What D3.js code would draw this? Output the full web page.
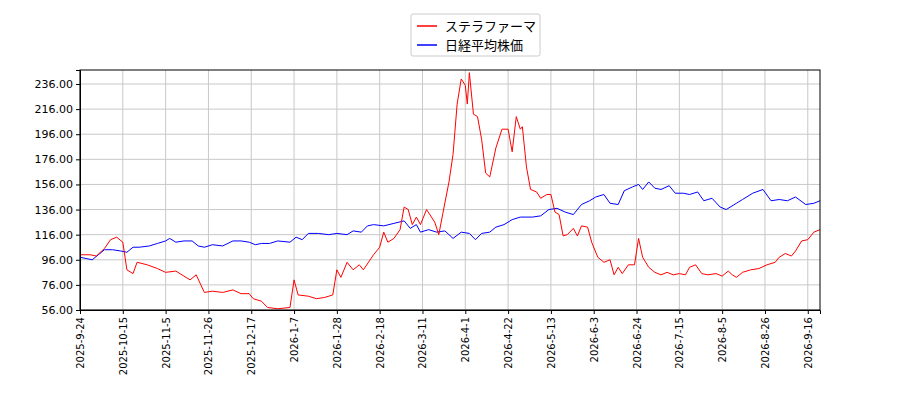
<!DOCTYPE html>
<html><head><meta charset="utf-8">
<script src="https://cdn.jsdelivr.net/npm/d3@7"></script>
<style>body{margin:0;background:#fff}svg{font-family:"DejaVu Sans",sans-serif}</style>
</head><body><svg id="c" width="900" height="400"></svg>
<script>
'use strict';
const seriesNames = ['ステラファーマ', '日経平均株価'];
const seriesColors = ['#ff0000', '#0000ff'];
const stellaDates = ['2025-9-24','2025-9-29','2025-10-2','2025-10-6','2025-10-9','2025-10-12','2025-10-15','2025-10-17','2025-10-20','2025-10-22','2025-10-27','2025-11-1','2025-11-5','2025-11-10','2025-11-14','2025-11-17','2025-11-20','2025-11-24','2025-11-28','2025-12-3','2025-12-8','2025-12-12','2025-12-16','2025-12-18','2025-12-22','2025-12-25','2025-12-30','2026-1-5','2026-1-7','2026-1-9','2026-1-14','2026-1-18','2026-1-22','2026-1-26','2026-1-28','2026-1-30','2026-2-2','2026-2-5','2026-2-8','2026-2-10','2026-2-15','2026-2-18','2026-2-20','2026-2-22','2026-2-25','2026-2-28','2026-3-2','2026-3-4','2026-3-6','2026-3-8','2026-3-10','2026-3-13','2026-3-17','2026-3-19','2026-3-21','2026-3-24','2026-3-26','2026-3-28','2026-3-30','2026-4-1','2026-4-2','2026-4-3','2026-4-5','2026-4-7','2026-4-9','2026-4-11','2026-4-13','2026-4-16','2026-4-19','2026-4-22','2026-4-24','2026-4-26','2026-4-28','2026-4-29','2026-5-1','2026-5-3','2026-5-6','2026-5-8','2026-5-11','2026-5-13','2026-5-15','2026-5-17','2026-5-19','2026-5-21','2026-5-24','2026-5-26','2026-5-28','2026-5-31','2026-6-2','2026-6-5','2026-6-8','2026-6-11','2026-6-13','2026-6-15','2026-6-17','2026-6-20','2026-6-23','2026-6-25','2026-6-27','2026-6-30','2026-7-3','2026-7-6','2026-7-9','2026-7-12','2026-7-15','2026-7-18','2026-7-20','2026-7-23','2026-7-26','2026-7-29','2026-8-2','2026-8-5','2026-8-8','2026-8-10','2026-8-12','2026-8-15','2026-8-19','2026-8-23','2026-8-27','2026-8-31','2026-9-2','2026-9-5','2026-9-8','2026-9-10','2026-9-13','2026-9-16','2026-9-19','2026-9-22'];
const stellaValues = [100,100,99,105,112,114,110,88,85,94,92,89,86,87,83,80,84,70,71,70,72,69,69,65,63,58,57,58,80,68,67,65,66,68,88,82,94,88,92,88,100,106,118,110,113,120,138,136,124,130,124,136,126,116,133,158,180,220,240,235,220,245,212,210,192,165,162,185,200,200,182,210,200,202,170,152,150,145,148,148,134,132,115,116,121,115,123,122,110,98,94,96,84,90,85,92,92,113,98,90,86,84,86,84,85,84,90,92,85,84,85,83,87,84,82,86,88,89,92,94,98,101,99,103,111,112,118,120];
const nikkeiDates = ['2025-9-24','2025-9-30','2025-10-3','2025-10-6','2025-10-10','2025-10-14','2025-10-17','2025-10-20','2025-10-23','2025-10-28','2025-11-1','2025-11-5','2025-11-7','2025-11-10','2025-11-14','2025-11-18','2025-11-21','2025-11-24','2025-11-28','2025-12-3','2025-12-8','2025-12-12','2025-12-16','2025-12-19','2025-12-22','2025-12-26','2025-12-30','2026-1-5','2026-1-8','2026-1-11','2026-1-14','2026-1-19','2026-1-24','2026-1-28','2026-2-2','2026-2-5','2026-2-9','2026-2-12','2026-2-15','2026-2-20','2026-2-25','2026-3-2','2026-3-5','2026-3-8','2026-3-10','2026-3-14','2026-3-18','2026-3-22','2026-3-26','2026-3-30','2026-4-3','2026-4-6','2026-4-9','2026-4-13','2026-4-16','2026-4-20','2026-4-24','2026-4-28','2026-5-4','2026-5-8','2026-5-12','2026-5-16','2026-5-20','2026-5-24','2026-5-28','2026-6-1','2026-6-4','2026-6-8','2026-6-11','2026-6-15','2026-6-18','2026-6-22','2026-6-25','2026-6-27','2026-6-30','2026-7-3','2026-7-6','2026-7-10','2026-7-13','2026-7-17','2026-7-20','2026-7-24','2026-7-27','2026-7-31','2026-8-4','2026-8-7','2026-8-12','2026-8-15','2026-8-20','2026-8-25','2026-8-29','2026-9-2','2026-9-6','2026-9-10','2026-9-15','2026-9-19','2026-9-22'];
const nikkeiValues = [98,96,100,104,104,103,102,106,106,107,109,111,113,110,111,111,107,106,108,107,111,111,110,108,109,109,111,110,114,112,117,117,116,117,116,119,118,123,124,123,125,127,121,124,118,120,118,119,113,118,117,112,117,118,122,124,128,130,130,131,136,137,134,132,140,143,146,148,141,140,151,154,156,152,158,153,152,155,149,149,148,150,143,145,138,136,141,144,149,152,143,144,143,146,140,141,143];
const yTicks = [56,76,96,116,136,156,176,196,216,236];
const xTickStart = '2025-9-24', xTickStep = 21, xTickCount = 18;

const parse = d3.timeParse('%Y-%-m-%-d');
const fmt = d3.timeFormat('%Y-%-m-%-d');
const mLeft = 80, mRight = 820, mTop = 70, mBottom = 310;
const svg = d3.select('#c');

const x = d3.scaleTime().domain([parse('2025-9-24'), parse('2026-9-22')]).range([mLeft, mRight]);
const y = d3.scaleLinear().domain([56, 56 + (mBottom - mTop) / 1.2556]).range([mBottom, mTop]);
const xTicks = d3.range(xTickCount).map(i => d3.timeDay.offset(parse(xTickStart), i * xTickStep));

svg.append('g').selectAll('line').data(xTicks).join('line')
  .attr('x1', d => x(d)).attr('x2', d => x(d)).attr('y1', mTop).attr('y2', mBottom)
  .attr('stroke', '#c8c8c8').attr('stroke-width', 1);
svg.append('g').selectAll('line').data(yTicks).join('line')
  .attr('x1', mLeft).attr('x2', mRight).attr('y1', d => y(d)).attr('y2', d => y(d))
  .attr('stroke', '#c8c8c8').attr('stroke-width', 1);

const line = d3.line().x(d => x(d[0])).y(d => y(d[1]));
const series = [
  d3.zip(nikkeiDates.map(parse), nikkeiValues),
  d3.zip(stellaDates.map(parse), stellaValues)
];
svg.append('path').datum(series[0]).attr('d', line).attr('fill', 'none').attr('stroke', seriesColors[1]).attr('stroke-width', 1);
svg.append('path').datum(series[1]).attr('d', line).attr('fill', 'none').attr('stroke', seriesColors[0]).attr('stroke-width', 1);

svg.append('g').attr('transform', `translate(${mLeft},0)`)
  .call(d3.axisLeft(y).tickValues(yTicks).tickFormat(d3.format('.2f')).tickSizeOuter(0).tickSize(4))
  .call(g => g.selectAll('text').attr('font-size', 11).attr('fill', '#000').attr('font-family', 'DejaVu Sans'));
const xa = svg.append('g').attr('transform', `translate(0,${mBottom})`)
  .call(d3.axisBottom(x).tickValues(xTicks).tickFormat(fmt).tickSizeOuter(0).tickSize(4));
xa.selectAll('text').attr('font-size', 10).attr('font-family', 'DejaVu Sans').attr('fill', '#000')
  .attr('transform', 'rotate(-90)').attr('text-anchor', 'end').attr('x', -7).attr('y', 0).attr('dy', '0.35em');
svg.append('rect').attr('x', mLeft).attr('y', mTop).attr('width', mRight - mLeft).attr('height', mBottom - mTop)
  .attr('fill', 'none').attr('stroke', '#000').attr('stroke-width', 1);

const lg = svg.append('g').attr('transform', 'translate(411,14)');
lg.append('rect').attr('width', 129).attr('height', 42).attr('fill', '#fff').attr('stroke', '#ccc').attr('rx', 2);
seriesNames.forEach((n, i) => {
  lg.append('line').attr('x1', 6).attr('x2', 26).attr('y1', 12 + i * 19).attr('y2', 12 + i * 19).attr('stroke', seriesColors[i]).attr('stroke-width', 1.5);
  lg.append('text').attr('x', 34).attr('y', 12 + i * 19).attr('dy', '0.35em').attr('font-size', 13).attr('font-family', 'Noto Sans CJK JP').text(n);
});
</script></body></html>
